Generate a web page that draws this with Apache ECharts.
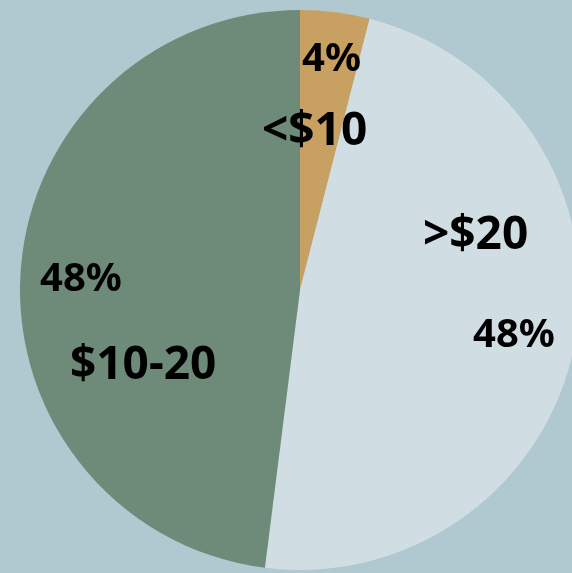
<!DOCTYPE html>
<html>
<head>
<meta charset="utf-8">
<script src="https://cdn.jsdelivr.net/npm/echarts@6/dist/echarts.min.js"></script>
<style>
  html, body { margin: 0; padding: 0; background: #b0c8cf; }
  #chart { width: 572px; height: 573px; }
</style>
</head>
<body>
<div id="chart"></div>
<script>
// price bands and their share
var bands = ["<$10", ">$20", "$10-20"];
var shares = [4, 48, 48];
var colors = ["#c8a061", "#d0dee4", "#6e8b7a"];

// where each label block sits and how its two lines are arranged
var labelPos = [[262, 40], [423, 213], [40, 260]];
var nameFirst = [false, true, false];
var lineGap = [104, 154, 132];
var padP = [40, 50, 0];
var padN = [0, 0, 30];

var font = "Noto Sans";
var chart = echarts.init(document.getElementById("chart"));

var data = bands.map(function (b, i) {
  var rich = {
    p: { fontFamily: font, fontWeight: "bold", fontSize: 40, color: "#000",
         lineHeight: nameFirst[i] ? lineGap[i] : 40, padding: [0, 0, 0, padP[i]] },
    n: { fontFamily: font, fontWeight: "bold", fontSize: 46, color: "#000",
         lineHeight: nameFirst[i] ? 46 : lineGap[i], padding: [0, 0, 0, padN[i]] }
  };
  return {
    name: b,
    value: shares[i],
    itemStyle: { color: colors[i] },
    label: { rich: rich }
  };
});

chart.setOption({
  backgroundColor: "#b0c8cf",
  animation: false,
  series: [{
    type: "pie",
    center: [300, 290],
    radius: 280,
    startAngle: 90,
    clockwise: true,
    data: data,
    itemStyle: { borderWidth: 0 },
    emphasis: { disabled: true },
    label: {
      show: true,
      position: "inside",
      formatter: function (p) {
        var pct = "{p|" + p.value + "%}";
        var nm = "{n|" + p.name + "}";
        return nameFirst[p.dataIndex] ? nm + "\n" + pct : pct + "\n" + nm;
      }
    },
    labelLine: { show: false },
    labelLayout: function (params) {
      var pos = labelPos[params.dataIndex];
      return { x: pos[0], y: pos[1], align: "left", verticalAlign: "top" };
    }
  }]
});
</script>
</body>
</html>
